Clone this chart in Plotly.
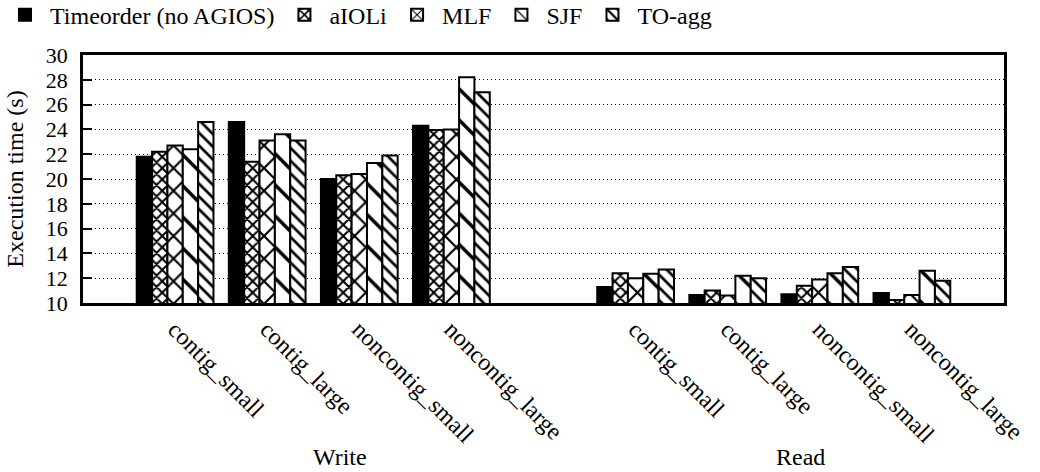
import plotly.graph_objects as go

# ---- data ----
categories = ["contig_small", "contig_large", "noncontig_small", "noncontig_large"]
groups = ["Write", "Read"]
series = ["Timeorder (no AGIOS)", "aIOLi", "MLF", "SJF", "TO-agg"]

timeorder_write = [21.8, 24.6, 20.0, 24.3]
aioli_write = [22.2, 21.4, 20.3, 23.95]
mlf_write = [22.7, 23.1, 20.4, 24.0]
sjf_write = [22.4, 23.6, 21.3, 28.2]
toagg_write = [24.6, 23.1, 21.9, 27.0]

timeorder_read = [11.3, 10.65, 10.7, 10.8]
aioli_read = [12.4, 11.0, 11.4, 10.25]
mlf_read = [12.0, 10.6, 11.9, 10.65]
sjf_read = [12.35, 12.2, 12.4, 12.6]
toagg_read = [12.7, 12.0, 12.9, 11.8]

y_ticks = [10, 12, 14, 16, 18, 20, 22, 24, 26, 28, 30]

write_vals = [timeorder_write, aioli_write, mlf_write, sjf_write, toagg_write]
read_vals = [timeorder_read, aioli_read, mlf_read, sjf_read, toagg_read]

# ---- styles ----
patterns = [
    dict(shape=""),
    dict(shape="x", size=8, solidity=0.45, fgcolor="black", bgcolor="white", fillmode="replace"),
    dict(shape="x", size=16, solidity=0.25, fgcolor="black", bgcolor="white", fillmode="replace"),
    dict(shape="\\", size=22, solidity=0.16, fgcolor="black", bgcolor="white", fillmode="replace"),
    dict(shape="\\", size=9, solidity=0.3, fgcolor="black", bgcolor="white", fillmode="replace"),
]
colors = ["black", "white", "white", "white", "white"]

FONT = "Liberation Serif"
FS = 24

n = len(categories)
xpos = list(range(n)) + [n + 1 + i for i in range(n)]
xlabels = categories + categories

fig = go.Figure()
for i, name in enumerate(series):
    fig.add_trace(go.Bar(
        name=name,
        x=xpos,
        y=write_vals[i] + read_vals[i],
        marker=dict(color=colors[i], pattern=patterns[i],
                    line=dict(color="black", width=2)),
    ))

fig.update_layout(
    width=1040, height=472,
    margin=dict(l=83, r=36, t=55, b=169, autoexpand=False),
    paper_bgcolor="white", plot_bgcolor="white",
    barmode="group", bargap=1/6, bargroupgap=0,
    font=dict(family=FONT, size=FS, color="black"),
    legend=dict(orientation="h", xref="container", yref="container",
                x=0.0, xanchor="left", y=0.968, yanchor="middle",
                font=dict(family=FONT, size=FS), traceorder="normal",
                itemwidth=40, bgcolor="rgba(0,0,0,0)"),
    showlegend=True,
)

fig.update_xaxes(
    range=[-1, 2 * n + 1], tickmode="array", tickvals=xpos, ticktext=xlabels,
    tickangle=45, showgrid=False, zeroline=False,
    showline=True, linecolor="black", linewidth=2.5, mirror=True,
    ticks="", tickfont=dict(family=FONT, size=FS), automargin=False,
)
fig.update_yaxes(
    range=[10, 30], tickmode="array", tickvals=y_ticks,
    showgrid=True, gridcolor="black", gridwidth=1, griddash="1px,3px",
    zeroline=False, showline=True, linecolor="black", linewidth=2.5, mirror=True,
    ticks="inside", ticklen=9, tickwidth=2, tickcolor="black",
    tickfont=dict(family=FONT, size=22), ticklabelstandoff=8,
    automargin=False,
    title=dict(text="Execution time (s)", font=dict(family=FONT, size=FS), standoff=16),
)

centers = [(n - 1) / 2, n + 1 + (n - 1) / 2]
for g, c in zip(groups, centers):
    fig.add_annotation(text=g, x=c, xref="x", y=-0.62, yref="paper",
                       xshift=27, showarrow=False, yanchor="middle",
                       font=dict(family=FONT, size=FS))

fig.write_html("out.html", config={"displayModeBar": False},
               post_script="document.body.style.margin='0';")
